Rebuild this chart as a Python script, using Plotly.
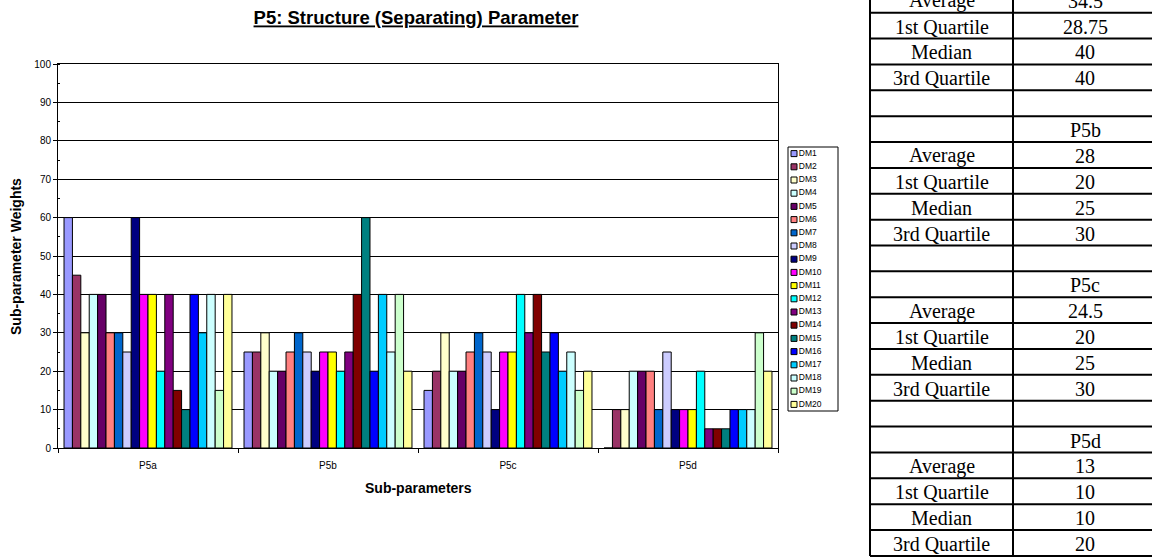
import numpy as np
import plotly.graph_objects as go

# ---------------- data ----------------
categories = ["P5a", "P5b", "P5c", "P5d"]
series_names = [f"DM{i}" for i in range(1, 21)]
series_colors = ["#9999FF", "#993366", "#FFFFCC", "#CCFFFF", "#660066",
                 "#FF8080", "#0066CC", "#CCCCFF", "#000080", "#FF00FF",
                 "#FFFF00", "#00FFFF", "#800080", "#800000", "#008080",
                 "#0000FF", "#00CCFF", "#CCFFFF", "#CCFFCC", "#FFFF99"]

p5a = [60, 45, 30, 40, 40, 30, 30, 25, 60, 40, 40, 20, 40, 15, 10, 40, 30, 40, 15, 40]
p5b = [25, 25, 30, 20, 20, 25, 30, 25, 20, 25, 25, 20, 25, 40, 60, 20, 40, 25, 40, 20]
p5c = [15, 20, 30, 20, 20, 25, 30, 25, 10, 25, 25, 40, 30, 40, 25, 30, 20, 25, 15, 20]
p5d = [0, 10, 10, 20, 20, 20, 10, 25, 10, 10, 10, 20, 5, 5, 5, 10, 10, 10, 30, 20]

y_ticks = [0, 10, 20, 30, 40, 50, 60, 70, 80, 90, 100]
stat_labels = ["Average", "1st Quartile", "Median", "3rd Quartile"]

title_text = "P5: Structure (Separating) Parameter"
x_title = "Sub-parameters"
y_title = "Sub-parameter Weights"

# ---------------- helpers ----------------
W, H = 1152, 558
SANS = "Liberation Sans, Arial, sans-serif"
SERIF = "Liberation Serif, Times New Roman, serif"


def fx(px):
    return px / W


def fy(py):
    return 1 - py / H


def fmt(v):
    return f"{v:g}"


cat_values = [p5a, p5b, p5c, p5d]

fig = go.Figure()

# bars
for i, name in enumerate(series_names):
    fig.add_trace(go.Bar(
        x=categories,
        y=[vals[i] for vals in cat_values],
        name=name,
        marker=dict(color=series_colors[i], line=dict(color="black", width=1)),
        showlegend=False,
        xaxis="x", yaxis="y",
    ))

# custom compact legend
fig.add_trace(go.Scatter(
    x=[6] * len(series_names),
    y=list(range(1, len(series_names) + 1)),
    mode="markers+text",
    text=series_names,
    textposition="middle right",
    textfont=dict(family=SANS, size=8.5, color="black"),
    marker=dict(symbol="square", size=6, color=series_colors,
                line=dict(color="black", width=1)),
    cliponaxis=False,
    showlegend=False,
    hoverinfo="skip",
    xaxis="x3", yaxis="y3",
))

shapes = []
annotations = []

# legend border
shapes.append(dict(type="rect", xref="x3 domain", yref="y3 domain",
                   x0=0, x1=1, y0=0, y1=1,
                   line=dict(color="black", width=1), fillcolor="rgba(0,0,0,0)"))

# ---------------- stats table ----------------
rows = []
for ci, (cat, vals) in enumerate(zip(categories, cat_values)):
    arr = np.array(vals, dtype=float)
    stats = [arr.mean(), np.percentile(arr, 25), np.percentile(arr, 50), np.percentile(arr, 75)]
    rows.append(("", cat))
    for lab, v in zip(stat_labels, stats):
        rows.append((lab, fmt(v)))
    if ci < len(categories) - 1:
        rows.append(("", ""))

ROW_H = 25.87
TAB_Y0 = -13.2 - ROW_H
COL_X = [870, 1013, 1157]
tab_y1 = TAB_Y0 + ROW_H * len(rows)

for k in range(len(rows) + 1):
    yy = TAB_Y0 + k * ROW_H
    shapes.append(dict(type="line", xref="paper", yref="paper",
                       x0=fx(COL_X[0]), x1=fx(COL_X[-1]), y0=fy(yy), y1=fy(yy),
                       line=dict(color="black", width=2)))
for cx in COL_X:
    shapes.append(dict(type="line", xref="paper", yref="paper",
                       x0=fx(cx), x1=fx(cx), y0=fy(TAB_Y0), y1=fy(tab_y1),
                       line=dict(color="black", width=2)))

for r, (lab, val) in enumerate(rows):
    yc = TAB_Y0 + (r + 0.5) * ROW_H
    for txt, c in ((lab, 0), (val, 1)):
        if txt:
            annotations.append(dict(
                text=txt, xref="paper", yref="paper",
                x=fx((COL_X[c] + COL_X[c + 1]) / 2), y=fy(yc + 1),
                xanchor="center", yanchor="middle", showarrow=False,
                font=dict(family=SERIF, size=20, color="black")))

# axis titles
annotations.append(dict(text=f"<b>{x_title}</b>", xref="paper", yref="paper",
                        x=fx(418), y=fy(488), xanchor="center", yanchor="middle",
                        showarrow=False, font=dict(family=SANS, size=14, color="black")))
annotations.append(dict(text=f"<b>{y_title}</b>", xref="paper", yref="paper",
                        x=fx(16), y=fy(257), xanchor="center", yanchor="middle",
                        textangle=-90, showarrow=False,
                        font=dict(family=SANS, size=14, color="black")))

fig.update_layout(
    width=W, height=H,
    margin=dict(l=0, r=0, t=0, b=0, autoexpand=False),
    paper_bgcolor="white", plot_bgcolor="white",
    font=dict(family=SANS, color="black"),
    barmode="group", bargap=0.067, bargroupgap=0,
    title=dict(text=f"<b><u>{title_text}</u></b>", x=fx(416), y=fy(18),
               xanchor="center", yanchor="middle",
               font=dict(family=SANS, size=18.5, color="black")),
    xaxis=dict(domain=[fx(58), fx(778)], type="category",
               showline=True, linecolor="black", linewidth=1, mirror=True,
               ticks="outside", tickson="boundaries", ticklen=4, tickcolor="black",
               ticklabelstandoff=8,
               tickfont=dict(family=SANS, size=10, color="black"),
               showgrid=False, fixedrange=True),
    yaxis=dict(domain=[fy(448), fy(64)], range=[0, 100],
               tickvals=y_ticks,
               showline=True, linecolor="black", linewidth=1, mirror=True,
               ticks="outside", ticklen=4, tickcolor="black",
               tickfont=dict(family=SANS, size=10, color="black"),
               showgrid=True, gridcolor="black", gridwidth=1, zeroline=False,
               minor=dict(dtick=5, ticks="inside", ticklen=2, tickcolor="black", showgrid=False),
               fixedrange=True),
    xaxis3=dict(domain=[fx(788), fx(838)], range=[0, 50], visible=False,
                anchor="y3", fixedrange=True),
    yaxis3=dict(domain=[fy(411), fy(147)], range=[20.5, 0.5], visible=False,
                anchor="x3", fixedrange=True),
    shapes=shapes,
    annotations=annotations,
)

fig.write_html(
    "out.html",
    config={"displayModeBar": False},
    post_script="document.body.style.margin='0';document.body.style.overflow='hidden';",
)
